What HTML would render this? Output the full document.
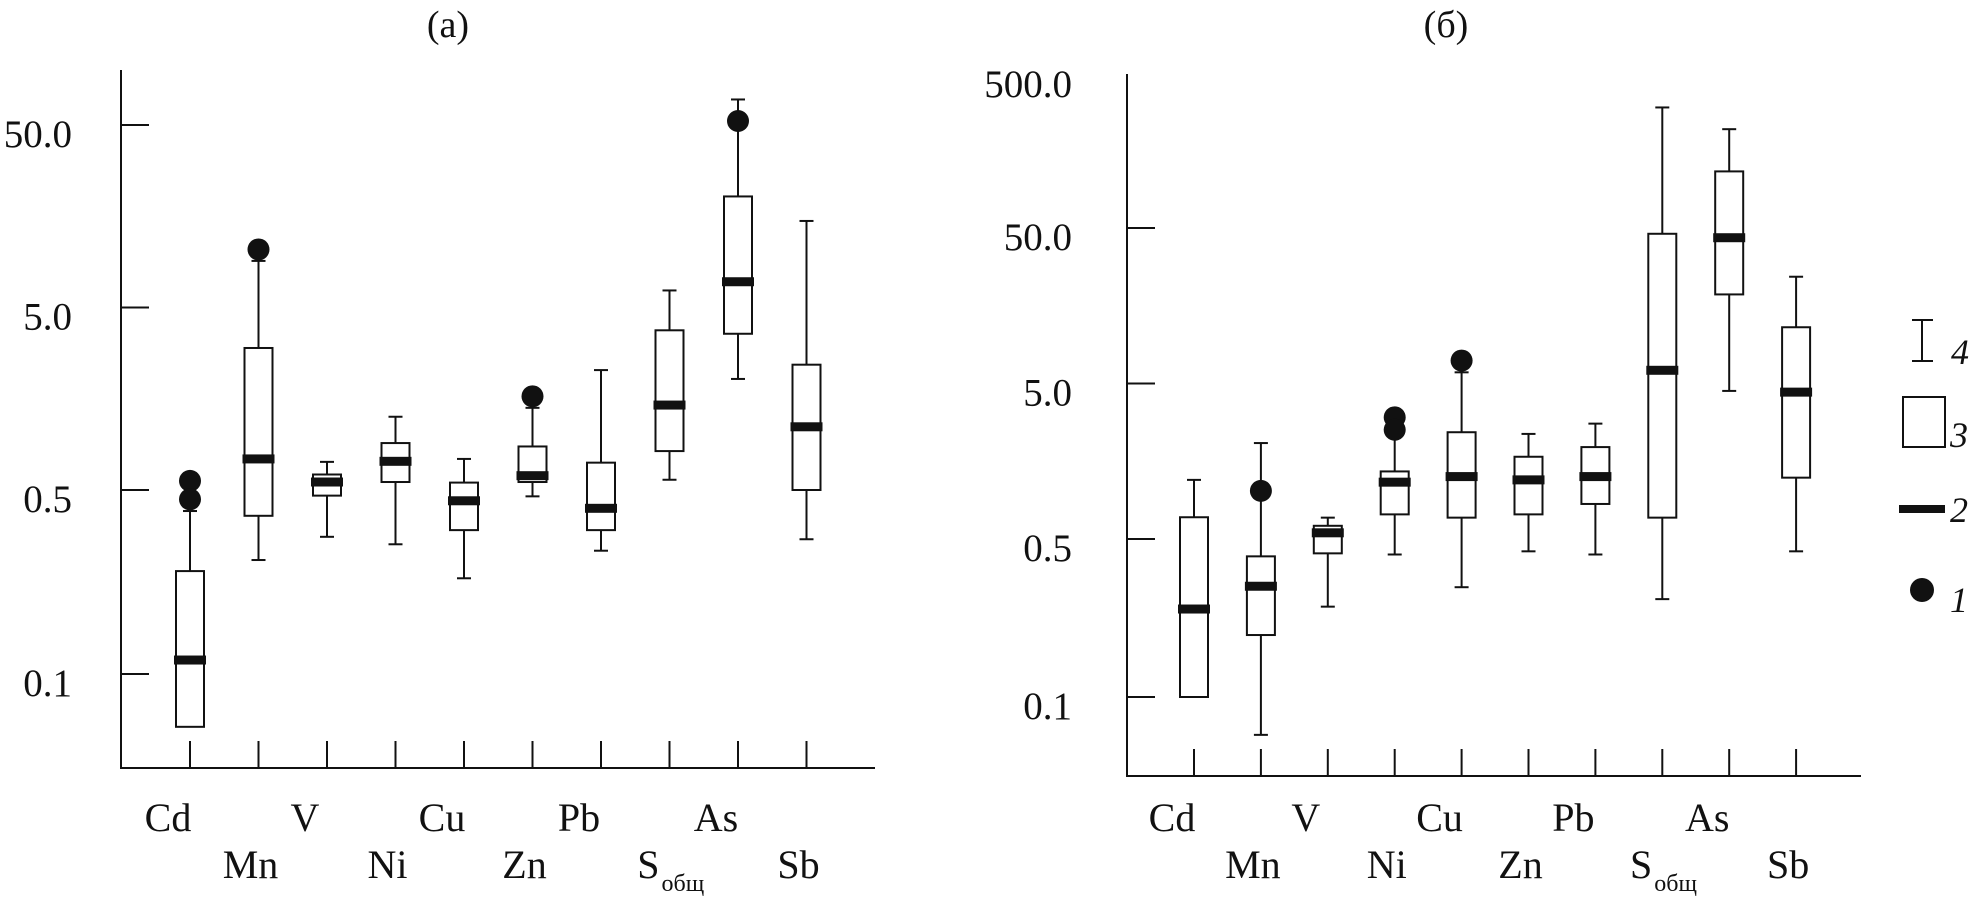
<!DOCTYPE html>
<html><head><meta charset="utf-8"><style>
html,body{margin:0;padding:0;background:#fff}
svg{display:block}
text{font-family:"Liberation Serif",serif;fill:#111}
</style></head><body>
<svg id="svg" width="1970" height="899" viewBox="0 0 1970 899" xmlns="http://www.w3.org/2000/svg">
<text x="448" y="37" font-size="38" text-anchor="middle">(a)</text>
<text x="1446" y="37" font-size="38" text-anchor="middle">(б)</text>
<g id="ga"></g>
<g id="gb"></g>
<g stroke="#111" stroke-width="2">
  <line x1="1922" y1="320" x2="1922" y2="361"/>
  <line x1="1912" y1="320" x2="1933" y2="320"/>
  <line x1="1912" y1="361" x2="1933" y2="361"/>
  <rect x="1903" y="397" width="42" height="50" fill="#fff"/>
  <rect x="1899" y="505" width="46" height="8" fill="#111" stroke="none"/>
  <circle cx="1922" cy="590" r="12" fill="#111" stroke="none"/>
</g>
<text x="1951" y="364" font-size="36" font-style="italic">4</text>
<text x="1950" y="447" font-size="36" font-style="italic">3</text>
<text x="1950" y="522" font-size="36" font-style="italic">2</text>
<text x="1950" y="612" font-size="36" font-style="italic">1</text>
</svg>
<script>
const categories = ["Cd","Mn","V","Ni","Cu","Zn","Pb","S","As","Sb"];
const tickLabelsA = ["50.0","5.0","0.5","0.1"];
const tickValsA = [50,5,0.5,0.1];
const loA  = [0.063,0.271,0.332,0.311,0.231,0.473,0.294,0.569,2.03,0.325];
const q1A  = [0.063,0.399,0.476,0.553,0.352,0.553,0.352,0.817,3.59,0.5];
const medA = [0.113,0.74,0.553,0.718,0.455,0.599,0.426,1.46,6.92,1.11];
const q3A  = [0.246,3.0,0.608,0.904,0.549,0.866,0.706,3.75,20.3,2.43];
const hiA  = [0.416,9.0,0.713,1.26,0.74,1.41,2.27,6.2,69,14.9];
const outA = [[0.561,0.461],[10.4],[],[],[],[1.63],[],[],[52.6],[]];

const tickLabelsB = ["500.0","50.0","5.0","0.5","0.1"];
const tickValsB = [500,50,5,0.5,0.1];
const loB  = [0.1,0.068,0.251,0.427,0.306,0.441,0.427,0.271,4.48,0.441];
const q1B  = [0.1,0.188,0.432,0.72,0.686,0.72,0.84,0.686,18.7,1.24];
const medB = [0.245,0.309,0.548,1.16,1.26,1.20,1.26,6.08,43.3,4.40];
const q3B  = [0.69,0.419,0.608,1.36,2.43,1.69,1.95,45.9,115.6,11.5];
const hiB  = [1.20,2.07,0.686,2.32,5.9,2.37,2.76,298,216,24.3];
const outB = [[],[1.02],[],[3.03,2.52],[7.02],[],[],[],[],[]];

const NS="http://www.w3.org/2000/svg";
function mk(parent,tag,attrs){const e=document.createElementNS(NS,tag);for(const k in attrs)e.setAttribute(k,attrs[k]);parent.appendChild(e);return e;}

function makeY(y05,y50,y01){
  return v=> v>=0.5 ? y05-Math.log10(v/0.5)*(y05-y50)/2 : y05+Math.log10(0.5/v)/Math.log10(5)*(y01-y05);
}
function drawPanel(g,cfg){
  const y=cfg.y, sw=2;
  const ax=mk(g,'line',{x1:cfg.ax,y1:cfg.top,x2:cfg.ax,y2:cfg.bottom,stroke:'#111','stroke-width':sw});
  
  
  const bx=mk(g,'line',{x1:cfg.ax-1,y1:cfg.bottom,x2:cfg.right,y2:cfg.bottom,stroke:'#111','stroke-width':sw});
  
  
  cfg.tickVals.forEach((v,i)=>{
    const ty=y(v);
    if(v<=50){
      const t=mk(g,'line',{x1:cfg.ax,y1:ty,x2:cfg.ax+28,y2:ty,stroke:'#111','stroke-width':sw});
      
      
    }
    const lbY = v>50 ? 97 : ty+22;
    const tx=mk(g,'text',{x:cfg.labelRight,y:lbY,'font-size':39,'text-anchor':'end'});
    tx.textContent=cfg.tickLabels[i];
    
    
  });
  categories.forEach((c,i)=>{
    const x=cfg.catX0+i*cfg.catStep;
    const t=mk(g,'line',{x1:x,y1:cfg.bottom-27,x2:x,y2:cfg.bottom,stroke:'#111','stroke-width':sw});
    
    
    const row=i%2;
    const lab=mk(g,'text',{x:x-(row?8:22),y:row?878:831,'font-size':40,'text-anchor':'middle'});
    
    
    if(c==="S"){
      lab.setAttribute('x',x-10);
      lab.setAttribute('text-anchor','end');
      lab.textContent='S';
      const sub=mk(g,'text',{x:x-8,y:891,'font-size':24});
      sub.textContent='общ';
      
      
    } else lab.textContent=c;
    // box
    const lo=cfg.lo[i],q1=cfg.q1[i],md=cfg.med[i],q3=cfg.q3[i],hi=cfg.hi[i];
    const w=28;
    const wh=mk(g,'line',{x1:x,y1:y(hi),x2:x,y2:y(lo),stroke:'#111','stroke-width':sw});
    
    
    [hi,lo].forEach(v=>{ if(v===q1) return;
      const cp=mk(g,'line',{x1:x-7,y1:y(v),x2:x+7,y2:y(v),stroke:'#111','stroke-width':sw});
      
      
    });
    const bxr=mk(g,'rect',{x:x-w/2,y:y(q3),width:w,height:y(q1)-y(q3),fill:'#fff',stroke:'#111','stroke-width':sw});
    
    
    const m=mk(g,'rect',{x:x-w/2-2,y:y(md)-4.5,width:w+4,height:9,fill:'#111'});
    
    
    cfg.out[i].forEach(v=>{
      const o=mk(g,'circle',{cx:x,cy:y(v),r:11,fill:'#111'});
      
      
    });
  });
}
drawPanel(document.getElementById('ga'),{
  y:makeY(490,125,674), ax:121, top:70, bottom:768, right:875, labelRight:72,
  catX0:190, catStep:68.5, tickVals:tickValsA, tickLabels:tickLabelsA,
  lo:loA,q1:q1A,med:medA,q3:q3A,hi:hiA,out:outA});
drawPanel(document.getElementById('gb'),{
  y:makeY(539,228,697), ax:1127, top:74, bottom:776, right:1861, labelRight:1072,
  catX0:1194, catStep:66.9, tickVals:tickValsB, tickLabels:tickLabelsB,
  lo:loB,q1:q1B,med:medB,q3:q3B,hi:hiB,out:outB});
</script>
</body></html>
